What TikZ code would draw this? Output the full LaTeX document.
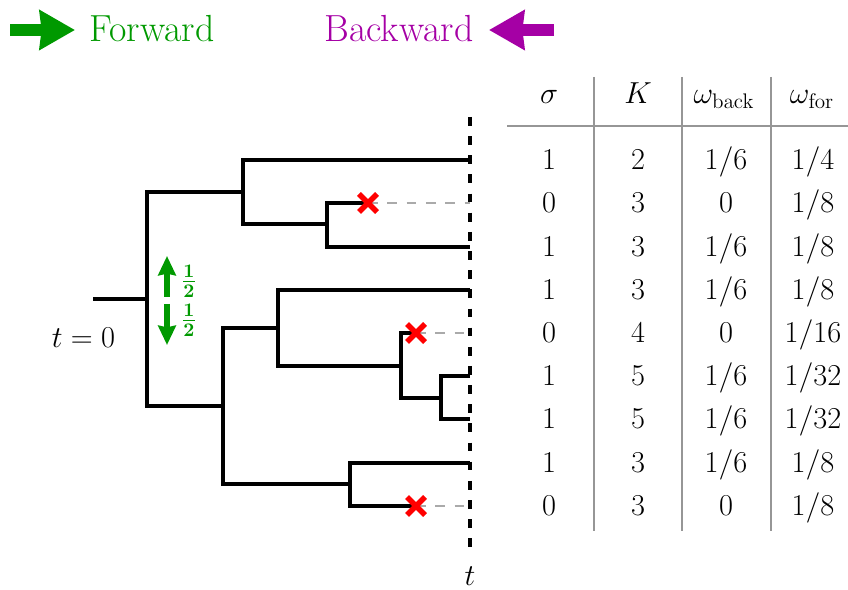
\documentclass[tikz,border=0pt]{standalone}
\usepackage{amsmath}
\usepackage{amssymb}
\usetikzlibrary{arrows.meta}
\definecolor{fwdgreen}{RGB}{0,153,0}
\definecolor{bwdpurple}{RGB}{165,0,165}
\definecolor{deadgray}{RGB}{170,170,170}
\definecolor{rulegray}{RGB}{150,150,150}

\begin{document}
\begin{tikzpicture}[x=0.02cm, y=-0.02cm, >=Stealth, font=\fontsize{17.5}{21}\selectfont]
  \tikzset{branch/.style={line width=1.8pt}};
  \tikzset{extinct/.style={deadgray, line width=1.3pt, dash pattern=on 5.5pt off 5.5pt}};
  \tikzset{cross/.style={red, line width=3.2pt}};
  \tikzset{rule/.style={rulegray, line width=0.9pt}};
  \tikzset{cell/.style={anchor=base, inner sep=0pt}};
  \tikzset{legend/.style={anchor=base, inner sep=0pt, font=\fontsize{21.5}{25}\selectfont}};
  \tikzset{half/.style={fwdgreen, inner sep=0pt, font=\fontsize{15.5}{18}\selectfont}};
  \useasboundingbox (0,0) rectangle (848,590);
  % legend
  \coordinate (fa) at (10,30);
  \coordinate (fb) at (75,30);
  \draw[fwdgreen, line width=6.5pt, -{Stealth[length=20pt, width=22pt, inset=1pt]}] (fa) -- (fb);
  \node[legend, fwdgreen] (fwd) at (152,42) {Forward};
  \node[legend, bwdpurple] (bwd) at (399,42) {Backward};
  \coordinate (ba) at (554,30);
  \coordinate (bb) at (489,30);
  \draw[bwdpurple, line width=6.5pt, -{Stealth[length=20pt, width=22pt, inset=1pt]}] (ba) -- (bb);
  % tree
  \coordinate (stub) at (93,299);
  \coordinate (root) at (147,299);
  \coordinate (a) at (243,192);
  \coordinate (b) at (223,406);
  \coordinate (c) at (327,224);
  \coordinate (d) at (278,328);
  \coordinate (e) at (350,484);
  \coordinate (f) at (401,366);
  \coordinate (g) at (441,398);
  \coordinate (x1) at (368,203);
  \coordinate (x2) at (416,333);
  \coordinate (x3) at (416,506);
  \coordinate (l1) at (470,160);
  \coordinate (l2) at (470,203);
  \coordinate (l3) at (470,247);
  \coordinate (l4) at (470,290);
  \coordinate (l5) at (470,333);
  \coordinate (l6) at (470,376);
  \coordinate (l7) at (470,419);
  \coordinate (l8) at (470,463);
  \coordinate (l9) at (470,506);
  \draw[extinct] (x1) -- (l2);
  \draw[extinct] (x2) -- (l5);
  \draw[extinct] (x3) -- (l9);
  \draw[branch] (stub) -- (root);
  \draw[branch] (root) |- (a) (root) |- (b);
  \draw[branch] (a) |- (l1) (a) |- (c);
  \draw[branch] (c) |- (x1) (c) |- (l3);
  \draw[branch] (b) |- (d) (b) |- (e);
  \draw[branch] (d) |- (l4) (d) |- (f);
  \draw[branch] (f) |- (x2) (f) |- (g);
  \draw[branch] (g) |- (l6) (g) |- (l7);
  \draw[branch] (e) |- (l8) (e) |- (x3);
  \foreach \c in {x1,x2,x3}
    \draw[cross] (\c) ++(-9,-9) -- ++(18,18) (\c) ++(-9,9) -- ++(18,-18);
  % time axis
  \coordinate (tt) at (470,117);
  \coordinate (tb) at (470,548);
  \draw[line width=1.8pt, dash pattern=on 5pt off 5.9pt] (tt) -- (tb);
  \node[cell] (tlab) at (470,585) {$t$};
  \node[cell] (t0) at (83.5,348) {$t = 0$};
  % branching probabilities
  \coordinate (up0) at (167,297);
  \coordinate (up1) at (167,256);
  \coordinate (dn0) at (167,304);
  \coordinate (dn1) at (167,345);
  \draw[fwdgreen, line width=3pt, -{Stealth[length=11pt, width=10pt, inset=1pt]}] (up0) -- (up1);
  \draw[fwdgreen, line width=3pt, -{Stealth[length=11pt, width=10pt, inset=1pt]}] (dn0) -- (dn1);
  \node[half] (pup) at (189,281) {$\boldsymbol{\frac{1}{2}}$};
  \node[half] (pdn) at (189,320) {$\boldsymbol{\frac{1}{2}}$};
  % table
  \draw[rule] (507,126) -- (848,126);
  \foreach \x in {594,682,771}
    \draw[rule] (\x,77) -- (\x,531);
  \node[cell] (hs) at (549,104) {$\sigma$};
  \node[cell] (hk) at (638,104) {$K$};
  \node[cell] (hb) at (724,104) {$\omega_{\mathrm{back}}$};
  \node[cell] (hf) at (812,104) {$\omega_{\mathrm{for}}$};
  \foreach \y/\s/\k/\wb/\wf [count=\i] in {160/1/2/{1/6}/{1/4}, 203/0/3/0/{1/8},
      247/1/3/{1/6}/{1/8}, 290/1/3/{1/6}/{1/8}, 333/0/4/0/{1/16}, 376/1/5/{1/6}/{1/32},
      419/1/5/{1/6}/{1/32}, 463/1/3/{1/6}/{1/8}, 506/0/3/0/{1/8}} {
    \node[cell] (s\i) at (549,\y+10) {$\s$};
    \node[cell] (k\i) at (638,\y+10) {$\k$};
    \node[cell] (wb\i) at (726,\y+10) {$\wb$};
    \node[cell] (wf\i) at (813,\y+10) {$\wf$};
  }
\end{tikzpicture}
\end{document}
